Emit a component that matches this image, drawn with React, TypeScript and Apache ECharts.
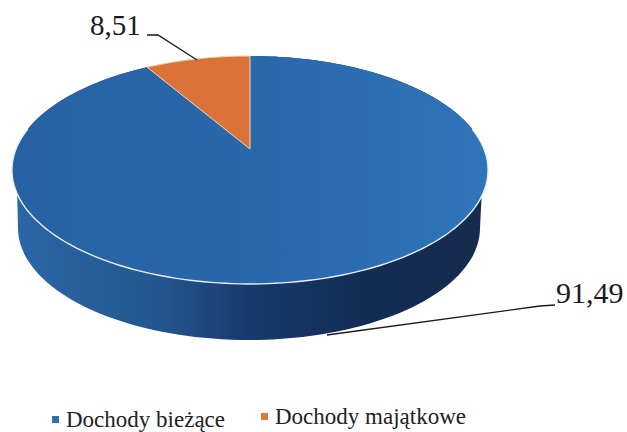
import React, { useEffect, useRef } from "react";
import * as echarts from "echarts";

const categories = ["Dochody bieżące", "Dochody majątkowe"];
const values = [91.49, 8.51];
const total = values.reduce((a, b) => a + b, 0);

const SERIF = '"Liberation Serif", "Times New Roman", serif';
const persp = { cx: 250, k: 234, a: -82.7, b: 149, c: 0.184 };
const lower = { cx: 249, cy: 228, rx: 231, ry: 112 };

function project(theta: number): number[] {
  const u = Math.sin(theta);
  const v = Math.cos(theta);
  const w = persp.c * v + 1;
  return [persp.cx + (persp.k * u) / w, (persp.a * v + persp.b) / w];
}

function arc(from: number, to: number): number[][] {
  const n = Math.max(4, Math.ceil(Math.abs(to - from) * 40));
  const pts: number[][] = [];
  for (let i = 0; i <= n; i++) pts.push(project(from + ((to - from) * i) / n));
  return pts;
}

function wall(): number[][] {
  const pts: number[][] = [];
  for (let i = 0; i <= 80; i++) {
    const t = (Math.PI * i) / 80;
    pts.push([lower.cx + lower.rx * Math.cos(t), lower.cy + lower.ry * Math.sin(t)]);
  }
  return pts.concat(arc(-Math.PI / 2, Math.PI / 2));
}

function sliceItem(index: number) {
  return (_params: any, api: any) => {
    const value = api.value(0);
    const start = values.slice(0, index).reduce((a, b) => a + b, 0);
    const from = (start / total) * Math.PI * 2;
    const to = ((start + value) / total) * Math.PI * 2;
    const apex = project(0);
    apex[1] = persp.b;
    const children: any[] = [];
    if (index === 0) {
      children.push({
        type: "polygon",
        shape: { points: wall() },
        style: {
          fill: new echarts.graphic.LinearGradient(0, 0, 1, 0, [
            { offset: 0, color: "#2b66a6" },
            { offset: 0.3, color: "#24578f" },
            { offset: 0.5, color: "#173a6c" },
            { offset: 0.75, color: "#122c55" },
            { offset: 1, color: "#162c4e" },
          ]),
        },
      });
      children.push({
        type: "polygon",
        shape: { points: [apex].concat(arc(from, to)) },
        style: {
          fill: new echarts.graphic.LinearGradient(0, 0, 1, 0, [
            { offset: 0, color: "#2761a3" },
            { offset: 0.6, color: "#2a69ad" },
            { offset: 1, color: "#2f75b9" },
          ]),
        },
      });
      children.push({
        type: "polyline",
        shape: { points: arc(Math.PI * 0.44, Math.PI * 1.56) },
        style: { stroke: "#e6f0f6", lineWidth: 1.4, fill: "none" },
      });
      children.push({
        type: "polyline",
        shape: { points: [[555, 305], [540, 306], [327, 335]] },
        style: { stroke: "#1a1a1a", lineWidth: 1.3, fill: "none" },
      });
      children.push({
        type: "text",
        style: { text: String(value).replace(".", ","), x: 556, y: 292, font: `30px ${SERIF}`, fill: "#1a1a1a", textAlign: "left", textVerticalAlign: "middle" },
      });
    } else {
      children.push({
        type: "polygon",
        shape: { points: [apex].concat(arc(from, to)) },
        style: { fill: "#dc723a", stroke: "#f0dcae", lineWidth: 1 },
      });
      children.push({
        type: "polyline",
        shape: { points: [[147, 35], [158, 35], [197, 60]] },
        style: { stroke: "#1a1a1a", lineWidth: 1.3, fill: "none" },
      });
      children.push({
        type: "text",
        style: { text: String(value).replace(".", ","), x: 90, y: 25, font: `29px ${SERIF}`, fill: "#1a1a1a", textAlign: "left", textVerticalAlign: "middle" },
      });
    }
    return { type: "group", children };
  };
}

const legendBase = {
  orient: "horizontal",
  icon: "rect",
  itemWidth: 7,
  itemHeight: 7,
  itemGap: 7,
  padding: 0,
  textStyle: { fontFamily: SERIF, fontSize: 23, color: "#222222", padding: [0, 0, 0, 2] },
};

export default function App() {
  const ref = useRef<HTMLDivElement>(null);
  useEffect(() => {
    const chart = echarts.init(ref.current!, undefined, { renderer: "svg" });
    chart.setOption({
      animation: false,
      backgroundColor: "#ffffff",
      legend: [
        { ...legendBase, data: [categories[0]], left: 52, top: 408 },
        { ...legendBase, data: [categories[1]], left: 261, top: 405 },
      ],
      series: [
        { type: "custom", name: categories[0], coordinateSystem: "none", data: [[values[0]]], itemStyle: { color: "#2f6fae" }, renderItem: sliceItem(0), silent: true },
        { type: "custom", name: categories[1], coordinateSystem: "none", data: [[values[1]]], itemStyle: { color: "#e0783c" }, renderItem: sliceItem(1), silent: true },
      ],
    });
    return () => chart.dispose();
  }, []);
  return <div ref={ref} style={{ position: "absolute", left: 0, top: 0, width: 627, height: 432 }} />;
}
